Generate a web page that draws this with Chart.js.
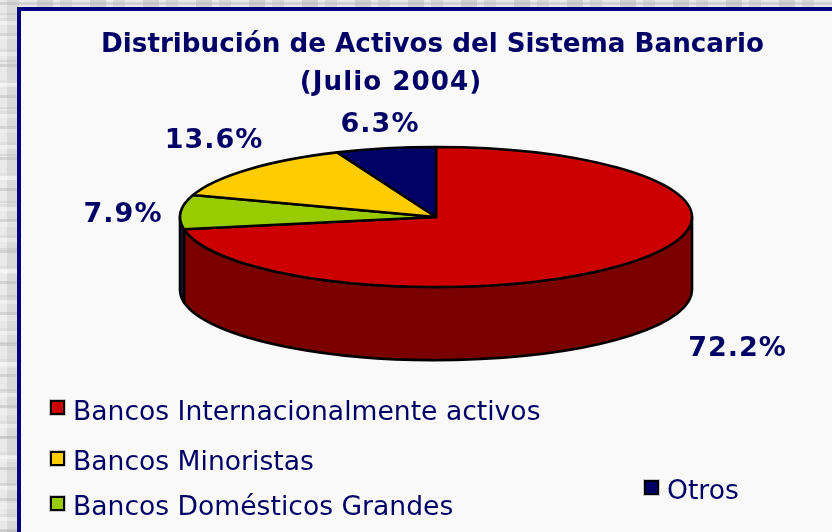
<!DOCTYPE html>
<html lang="es">
<head>
<meta charset="utf-8">
<style>
html,body{margin:0;padding:0;width:832px;height:532px;overflow:hidden;background-color:#e6e6e6;
background-image:
 repeating-linear-gradient(0deg,rgba(170,170,170,.35) 0 3px,rgba(255,255,255,0) 3px 11px,rgba(255,255,255,.35) 11px 15px,rgba(200,200,200,.3) 15px 18px,rgba(255,255,255,0) 18px 31px),
 repeating-linear-gradient(0deg,rgba(140,140,140,.16) 0 2px,rgba(255,255,255,0) 2px 23px,rgba(255,255,255,.25) 23px 29px,rgba(255,255,255,0) 29px 47px),
 repeating-linear-gradient(90deg,rgba(255,255,255,.14) 0 7px,rgba(120,120,120,.12) 7px 19px,rgba(255,255,255,.1) 19px 37px,rgba(90,90,90,.14) 37px 53px);}
#panel{position:absolute;left:17px;top:7px;right:-8px;bottom:-8px;box-sizing:border-box;background:#f9f9f9;border:4px solid #000080;}
canvas{position:absolute;left:0;top:0;display:block;}
</style>
</head>
<body>
<div id="panel"></div>
<canvas id="c" width="832" height="532"></canvas>
<script src="https://cdn.jsdelivr.net/npm/chart.js@4/dist/chart.umd.js"></script>
<script>
const categories = ['Bancos Internacionalmente activos','Bancos Domésticos Grandes','Bancos Minoristas','Otros'];
const values = [72.2, 7.9, 13.6, 6.3];
const colors = ['#CC0000','#99CC00','#FFCC00','#000066'];
const wallColors = ['#7A0000','#2A1A4A','#997A00','#00003D'];
const titleLines = ['Distribución de Activos del Sistema Bancario','(Julio 2004)'];

const ink = '#000066';
const FONT = '"DejaVu Sans"';
const pieY = 217, flatten = 70/256, depth = 73;
const titlePos = [[432.5,52],[391,90]];
const titleSpacing = ['0px','1px'];
const labelPos = [[737.5,356],[123,222],[214,148],[380,132]];
const legendPos = [[50,400,420],[50,496,515],[50,451,470],[644,480,499]];
const legendTextX = [73,73,73,667];

const pie3d = {
  id:'pie3d',
  beforeDatasetsDraw(chart){
    const ctx=chart.ctx, arcs=chart.getDatasetMeta(0).data;
    ctx.save();
    ctx.lineWidth=2.6; ctx.strokeStyle='#000'; ctx.lineJoin='round';
    arcs.forEach((el,i)=>{
      const p=el.getProps(['x','startAngle','endAngle','outerRadius'],true);
      const a=Math.max(p.startAngle,0), b=Math.min(p.endAngle,Math.PI);
      if(b<=a) return;
      const rx=p.outerRadius, ry=rx*flatten;
      ctx.beginPath();
      ctx.ellipse(p.x,pieY,rx,ry,0,a,b);
      ctx.ellipse(p.x,pieY+depth,rx,ry,0,b,a,true);
      ctx.closePath();
      ctx.fillStyle=wallColors[i];
      ctx.fill(); ctx.stroke();
    });
    arcs.forEach((el,i)=>{
      const p=el.getProps(['x','startAngle','endAngle','outerRadius'],true);
      const rx=p.outerRadius, ry=rx*flatten;
      ctx.beginPath();
      ctx.moveTo(p.x,pieY);
      ctx.ellipse(p.x,pieY,rx,ry,0,p.startAngle,p.endAngle);
      ctx.closePath();
      ctx.fillStyle=colors[i];
      ctx.fill(); ctx.stroke();
    });
    ctx.restore();
    return false;
  },
  afterDraw(chart){
    const ctx=chart.ctx;
    ctx.save();
    ctx.fillStyle=ink; ctx.textBaseline='alphabetic';
    ctx.textAlign='center';
    ctx.font=`bold 26.2px ${FONT}`;
    titleLines.forEach((t,i)=>{ctx.letterSpacing=titleSpacing[i];ctx.fillText(t,titlePos[i][0],titlePos[i][1]);});
    ctx.font=`bold 27px ${FONT}`; ctx.letterSpacing='1px';
    values.forEach((v,i)=>ctx.fillText(v.toFixed(1)+'%',labelPos[i][0],labelPos[i][1]));
    ctx.letterSpacing='0px';
    ctx.font=`26.6px ${FONT}`; ctx.textAlign='left';
    categories.forEach((c,i)=>{
      const [x,y,base]=legendPos[i];
      ctx.fillStyle='#c8c8c8'; ctx.fillRect(x-1,y-1,17,17);
      ctx.fillStyle='#000'; ctx.fillRect(x,y,15,15);
      ctx.fillStyle=colors[i]; ctx.fillRect(x+2,y+2,11,11);
      ctx.fillStyle=ink;
      ctx.fillText(c,legendTextX[i],base);
    });
    ctx.restore();
  }
};

new Chart(document.getElementById('c'),{
  type:'pie',
  data:{labels:categories,datasets:[{data:values,backgroundColor:colors,borderWidth:0}]},
  options:{
    responsive:false,animation:false,
    layout:{padding:{left:180,right:140,top:10,bottom:10}},
    plugins:{legend:{display:false},title:{display:false},tooltip:{enabled:false}}
  },
  plugins:[pie3d]
});
</script>
</body>
</html>
